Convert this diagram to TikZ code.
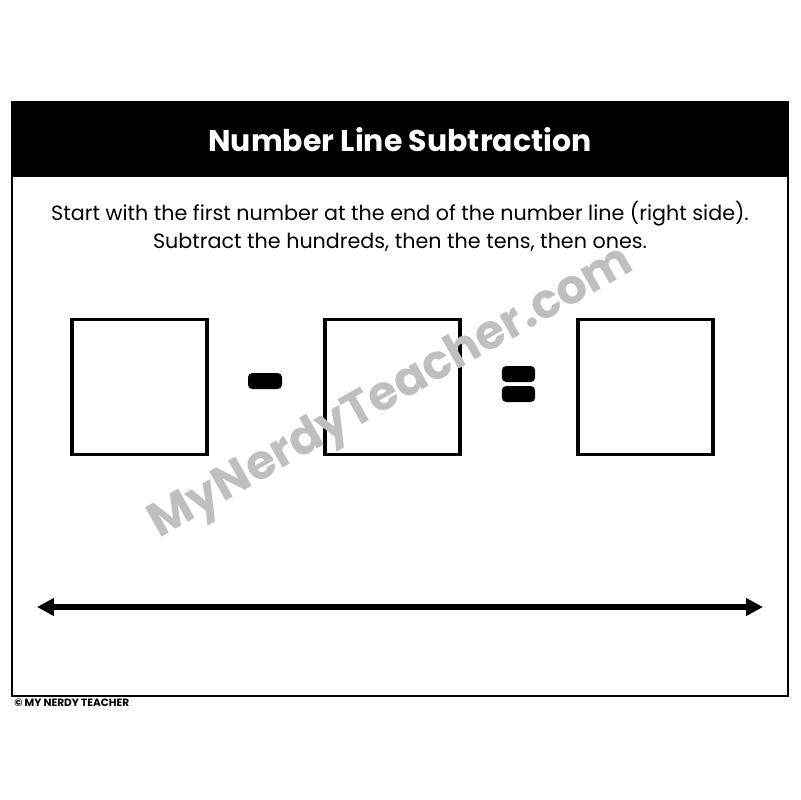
\documentclass[tikz,border=0pt]{standalone}
\usepackage{fontspec}
\setmainfont{Poppins}
\usepackage{tikz}
\usetikzlibrary{shapes, arrows.meta, positioning}

\begin{document}
\begin{tikzpicture}[x=0.025cm, y=-0.025cm, every node/.style={font=\fontsize{14.7}{20}\selectfont}]
        % Page
        \fill[white] (0,0) rectangle (800,800);
        \useasboundingbox (0,0) rectangle (800,800);
        % Frame and header
        \node[draw, line width=1.4pt, minimum width=19.4cm, minimum height=14.85cm, inner sep=0] (frame) at (400,399) {};
        \node[fill=black, minimum width=19.4cm, minimum height=1.9cm, anchor=north, inner sep=0] (header) at (frame.north) {};
        \node[text=white, font=\fontsize{21.3}{24}\selectfont\bfseries] (title) at (header) {Number Line Subtraction};
        % Instructions
        \node[align=center] (instr) at (400,226) {Start with the first number at the end of the number line (right side).\\Subtract the hundreds, then the tens, then ones.};
        % Boxes
        \foreach \i in {1,2,3} {
            \node[draw, line width=2.8pt, minimum size=3.375cm, inner sep=0] (box\i) at ({139.5+(\i-1)*253}, 387) {};
        }
        % Signs
        \node[fill=black, rounded corners=3pt, minimum width=0.85cm, minimum height=0.4cm, inner sep=0] (minus) at (265,381) {};
        \node[fill=black, rounded corners=3pt, minimum width=0.83cm, minimum height=0.4cm, inner sep=0] (eqtop) at (518.5,374) {};
        \node[fill=black, rounded corners=3pt, minimum width=0.83cm, minimum height=0.4cm, inner sep=0] (eqbot) at (518.5,394) {};
        % Number line
        \coordinate (lineL) at (37,607);
        \coordinate (lineR) at (763,607);
        \draw[{Triangle[length=12pt, width=12pt]}-{Triangle[length=12pt, width=12pt]}, line width=4.3pt] (lineL) -- (lineR);
        % Watermark
        \node[text=black!25, rotate=29.5, font=\fontsize{34}{34}\selectfont\bfseries] (mark) at (392,394) {MyNerdyTeacher.com};
        % Footer
        \node[anchor=north west, inner sep=0, font=\fontsize{7.5}{8}\selectfont\bfseries] (footer) at (14,699) {© MY NERDY TEACHER};
\end{tikzpicture}
\end{document}
